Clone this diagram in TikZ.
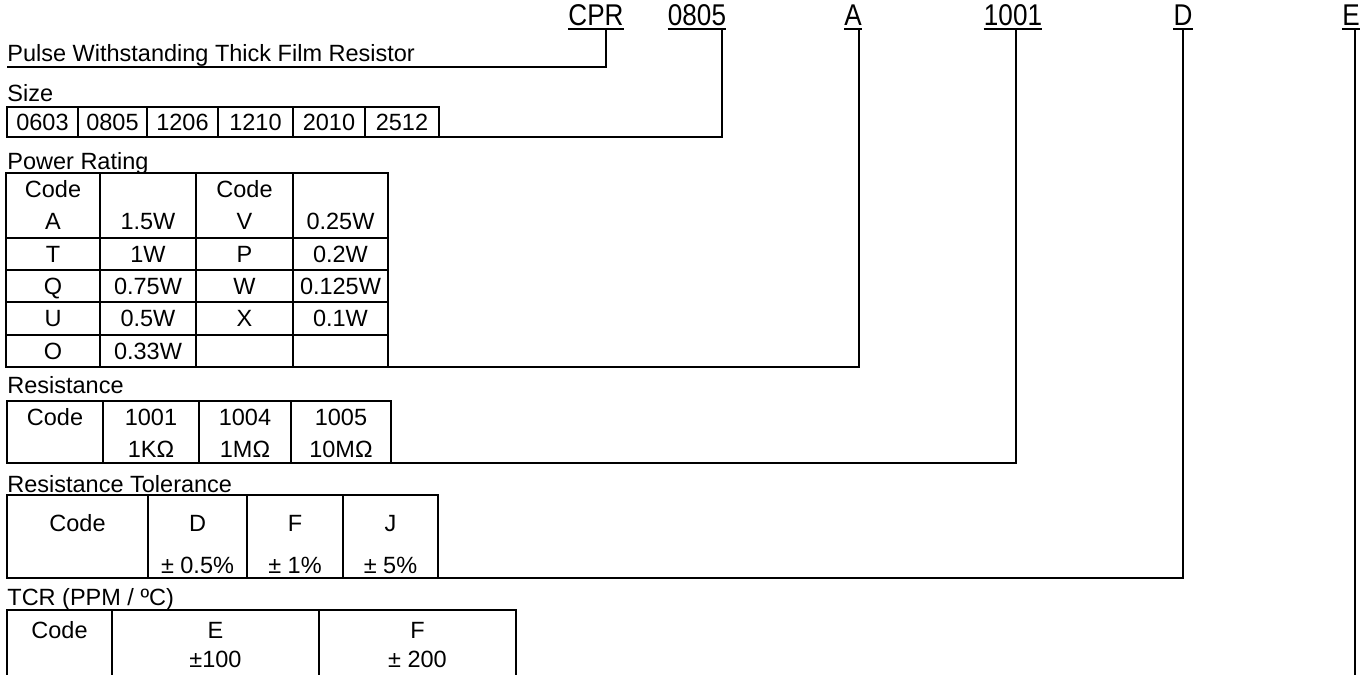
\documentclass[tikz,border=0pt]{standalone}
\usepackage{fontspec}
\setmainfont{Liberation Sans}
\usepackage{graphicx}
\newcommand\bodyfont{\fontsize{11.75pt}{14pt}\selectfont}
\newcommand\topfont{\fontsize{15pt}{18pt}\selectfont}
\newcommand\narrowtxt[1]{\scalebox{0.87}[1]{#1}}
\begin{document}
\begin{tikzpicture}[x=0.5pt,y=-0.5pt,
  txt/.style={anchor=base, inner sep=0pt, font=\bodyfont},
  lab/.style={anchor=base west, inner sep=0pt, font=\bodyfont},
  toplab/.style={anchor=base, inner sep=0pt, font=\topfont},
  grid/.style={line width=1pt},
  wire/.style={line width=1.2pt},
  uline/.style={line width=1pt}]
\useasboundingbox (0,0) rectangle (1372,675);

% ---------- top code labels ----------
\node[toplab] (cpr) at (596,25) {\narrowtxt{CPR}};
\node[toplab] (t0805) at (697,25) {\narrowtxt{0805}};
\node[toplab] (tA) at (853,25) {\narrowtxt{A}};
\node[toplab] (t1001) at (1013,25) {\narrowtxt{1001}};
\node[toplab] (tD) at (1183,25) {\narrowtxt{D}};
\node[toplab] (tE) at (1351,25) {\narrowtxt{E}};
\foreach \n in {cpr,t0805,tA,t1001,tD,tE}{
  \draw[uline] ([yshift=-2pt]\n.base west) -- ([yshift=-2pt]\n.base east);
}
\coordinate (dCPR) at (606,29);
\coordinate (d0805) at (722,29);
\coordinate (dA) at (859,29);
\coordinate (d1001) at (1016,29);
\coordinate (dD) at (1183,29);
\coordinate (dE) at (1355,29);

% ---------- Pulse ----------
\node[lab] (pulse) at (7,61) {Pulse Withstanding Thick Film Resistor};
\coordinate (pulseL) at (7,67);
\draw[wire] (pulseL) -| (dCPR);

% ---------- Size ----------
\node[lab] (size) at (7,101) {Size};
\draw[grid] (7,107) rectangle (439,137);
\foreach \x in {78,147,218,293,365} \draw[grid] (\x,107) -- (\x,137);
\node[txt] (s1) at (42.5,130.4) {0603};
\node[txt] (s2) at (112.5,130.4) {0805};
\node[txt] (s3) at (182.5,130.4) {1206};
\node[txt] (s4) at (255.5,130.4) {1210};
\node[txt] (s5) at (329,130.4) {2010};
\node[txt] (s6) at (402,130.4) {2512};
\coordinate (sizeR) at (439,137);
\draw[wire] (sizeR) -| (d0805);

% ---------- Power Rating ----------
\node[lab] (power) at (7,169) {Power Rating};
\draw[grid] (6,173) rectangle (388,367);
\foreach \x in {100,196,293} \draw[grid] (\x,173) -- (\x,367);
\foreach \y in {237.7,270,302.3,334.7} \draw[grid] (6,\y) -- (388,\y);
\node[txt] (p01) at (53,197.4) {Code};
\node[txt] (p03) at (244.5,197.4) {Code};
\node[txt] (p11) at (53,229.9) {A};
\node[txt] (p12) at (148,229.9) {1.5W};
\node[txt] (p13) at (244.5,229.9) {V};
\node[txt] (p14) at (340.5,229.9) {0.25W};
\node[txt] (p21) at (53,262.4) {T};
\node[txt] (p22) at (148,262.4) {1W};
\node[txt] (p23) at (244.5,262.4) {P};
\node[txt] (p24) at (340.5,262.4) {0.2W};
\node[txt] (p31) at (53,294.4) {Q};
\node[txt] (p32) at (148,294.4) {0.75W};
\node[txt] (p33) at (244.5,294.4) {W};
\node[txt] (p34) at (340.5,294.4) {0.125W};
\node[txt] (p41) at (53,326.9) {U};
\node[txt] (p42) at (148,326.9) {0.5W};
\node[txt] (p43) at (244.5,326.9) {X};
\node[txt] (p44) at (340.5,326.9) {0.1W};
\node[txt] (p51) at (53,359.4) {O};
\node[txt] (p52) at (148,359.4) {0.33W};
\coordinate (powerR) at (388,367);
\draw[wire] (powerR) -| (dA);

% ---------- Resistance ----------
\node[lab] (res) at (7,393) {Resistance};
\draw[grid] (7,401) rectangle (391,463);
\foreach \x in {103,199,291} \draw[grid] (\x,401) -- (\x,463);
\node[txt] (r01) at (55,425.4) {Code};
\node[txt] (r02) at (151,425.4) {1001};
\node[txt] (r03) at (245,425.4) {1004};
\node[txt] (r04) at (341,425.4) {1005};
\node[txt] (r12) at (151,457.4) {1K\symbol{"03A9}};
\node[txt] (r13) at (245,457.4) {1M\symbol{"03A9}};
\node[txt] (r14) at (341,457.4) {10M\symbol{"03A9}};
\coordinate (resR) at (391,463);
\draw[wire] (resR) -| (d1001);

% ---------- Resistance Tolerance ----------
\node[lab] (tol) at (7,492) {Resistance Tolerance};
\draw[grid] (7,495) rectangle (438,578);
\foreach \x in {148,247,343} \draw[grid] (\x,495) -- (\x,578);
\node[txt] (o01) at (77.5,531.4) {Code};
\node[txt] (o02) at (197.5,531.4) {D};
\node[txt] (o03) at (295,531.4) {F};
\node[txt] (o04) at (390.5,531.4) {J};
\node[txt] (o12) at (197.5,573.4) {± 0.5\%};
\node[txt] (o13) at (295,573.4) {± 1\%};
\node[txt] (o14) at (390.5,573.4) {± 5\%};
\coordinate (tolR) at (438,578);
\draw[wire] (tolR) -| (dD);

% ---------- TCR ----------
\node[lab] (tcr) at (7,605) {TCR (PPM / ºC)};
\draw[grid] (7,690) -- (7,610) -- (516,610) -- (516,690);
\foreach \x in {112,319} \draw[grid] (\x,610) -- (\x,690);
\node[txt] (c01) at (59.5,638.4) {Code};
\node[txt] (c02) at (215.5,638.4) {E};
\node[txt] (c03) at (417.5,638.4) {F};
\node[txt] (c12) at (215.5,667.4) {±100};
\node[txt] (c13) at (417.5,667.4) {± 200};

% ---------- E line ----------
\coordinate (eBot) at (1355,690);
\draw[wire] (dE) -- (eBot);
\end{tikzpicture}
\end{document}
